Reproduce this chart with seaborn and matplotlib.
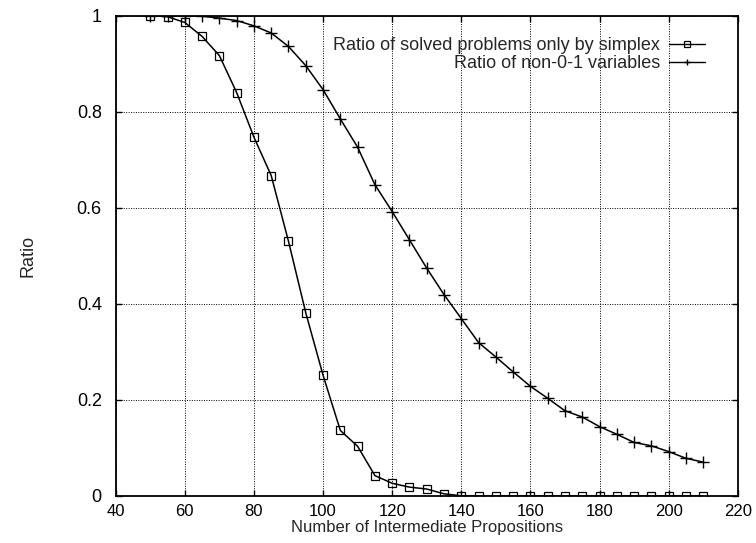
import numpy as np
import pandas as pd
import matplotlib
matplotlib.use("Agg")
import matplotlib.pyplot as plt
import seaborn as sns

# data
props = list(range(50, 215, 5))
simplex_only = [1.0, 0.998, 0.986, 0.957, 0.917, 0.840, 0.747, 0.667, 0.530, 0.381,
                0.251, 0.136, 0.103, 0.042, 0.026, 0.018, 0.014, 0.004, 0.0, 0.0,
                0.0, 0.0, 0.0, 0.0, 0.0, 0.0, 0.0, 0.0, 0.0, 0.0, 0.0, 0.0, 0.0]
non01_vars = [1.0, 1.0, 1.0, 0.999, 0.995, 0.990, 0.979, 0.964, 0.936, 0.896,
              0.846, 0.785, 0.726, 0.648, 0.592, 0.533, 0.474, 0.419, 0.369, 0.319,
              0.289, 0.258, 0.228, 0.203, 0.177, 0.164, 0.144, 0.128, 0.111, 0.104,
              0.092, 0.078, 0.070]
x_ticks = list(range(40, 240, 20))
y_ticks = [0, 0.2, 0.4, 0.6, 0.8, 1]
y_tick_labels = ["0", "0.2", "0.4", "0.6", "0.8", "1"]

df = pd.DataFrame({"props": props, "simplex": simplex_only, "non01": non01_vars})

sns.set_theme(style="ticks")
plt.rcParams["font.family"] = ["Liberation Sans", "DejaVu Sans"]
fs = 13
fs_x = 12

fig = plt.figure(figsize=(7.56, 5.43), dpi=100)
ax = fig.add_axes([0.153, 0.087, 0.823, 0.884])

sns.lineplot(data=df, x="props", y="simplex", ax=ax, color="black", lw=1.1,
             marker="s", markersize=5.5, markerfacecolor="none",
             markeredgecolor="black", markeredgewidth=0.9,
             label="Ratio of solved problems only by simplex")
sns.lineplot(data=df, x="props", y="non01", ax=ax, color="black", lw=1.1,
             marker="+", markersize=8, markeredgewidth=1.0,
             markeredgecolor="black",
             label="Ratio of non-0-1 variables")

ax.set_xlim(40, 220)
ax.set_ylim(0, 1)
ax.set_xticks(x_ticks)
ax.set_yticks(y_ticks)
ax.set_yticklabels(y_tick_labels)
ax.grid(True, color="black", linestyle=(0, (1, 1.5)), linewidth=0.7)
ax.tick_params(direction="in", length=4, width=1, top=True, right=True,
               colors="black")
ax.tick_params(axis="x", pad=6, labelsize=fs_x)
ax.tick_params(axis="y", pad=10, labelsize=fs)
for s in ax.spines.values():
    s.set_linewidth(1.3)
    s.set_color("black")

ax.set_xlabel("Number of Intermediate Propositions", fontsize=fs_x, labelpad=0.5)
ax.set_ylabel("Ratio", fontsize=fs, labelpad=29)

leg = ax.legend(loc="upper right", bbox_to_anchor=(0.958, 0.97), frameon=False,
                markerfirst=False, fontsize=fs, handlelength=1.95,
                handletextpad=0.5, labelspacing=0.05, borderaxespad=0)
for h in leg.legend_handles:
    h.set_markersize(4)
    h.set_linewidth(1.0)

fig.savefig("out.png", dpi=100)
